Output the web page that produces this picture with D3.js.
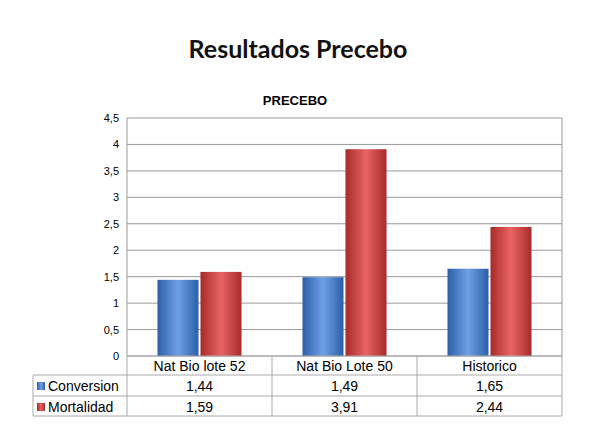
<!DOCTYPE html><html><head><meta charset="utf-8"><script src="https://cdn.jsdelivr.net/npm/d3@7"></script>
<style>body{margin:0;background:#fff}svg{font-family:Arial,"Liberation Sans",sans-serif}</style></head><body>
<svg id="c" width="600" height="427"></svg>
<script>
const categories=["Nat Bio lote 52","Nat Bio Lote 50","Historico"];
const seriesNames=["Conversion","Mortalidad"];
const conversion=[1.44,1.49,1.65];
const mortalidad=[1.59,3.91,2.44];
const yTicks=[0,0.5,1,1.5,2,2.5,3,3.5,4,4.5];
const series=[conversion,mortalidad];
const cols=[["#2a5fa8","#6fa0e4","#2a5fa8"],["#a82a2a","#ea6464","#a82a2a"]];
const svg=d3.select("#c");
const defs=svg.append("defs");
cols.forEach((c,i)=>{const g=defs.append("linearGradient").attr("id","g"+i);
g.selectAll("stop").data(c).join("stop").attr("offset",(d,j)=>j/2).attr("stop-color",d=>d);});
svg.append("text").attr("x",298).attr("y",58).attr("text-anchor","middle")
 .attr("font-family","Lato, 'Open Sans', sans-serif").attr("font-weight","bold").attr("font-size",25).attr("fill","#111").text("Resultados Precebo");
svg.append("text").attr("x",295).attr("y",105).attr("text-anchor","middle").attr("font-weight","bold").attr("font-size",13).text("PRECEBO");
const L=127,R=562,T=118,B=356,tL=33;
const x=d3.scaleBand().domain(categories).range([L,R]);
const y=d3.scaleLinear().domain([0,4.5]).range([B,T]);
const grid="#999";
svg.append("g").selectAll("line").data(yTicks).join("line").attr("x1",L).attr("x2",R).attr("y1",d=>y(d)).attr("y2",d=>y(d)).attr("stroke",grid);
svg.append("line").attr("x1",L).attr("x2",L).attr("y1",T).attr("y2",B).attr("stroke",grid);
svg.append("line").attr("x1",R).attr("x2",R).attr("y1",T).attr("y2",B).attr("stroke",grid);
svg.append("g").selectAll("text").data(yTicks).join("text").attr("x",L-8).attr("y",d=>y(d)+4).attr("text-anchor","end").attr("font-size",11)
 .text(d=>String(d).replace(".",","));
const bw=41;
series.forEach((s,i)=>{
 svg.append("g").selectAll("rect").data(s).join("rect")
  .attr("x",(d,j)=>x(categories[j])+x.bandwidth()/2+(i?1:-bw-1)).attr("width",bw)
  .attr("y",d=>y(d)).attr("height",d=>B-y(d)).attr("fill","url(#g"+i+")");
});
// table
const rows=[B,375,396,416];
const tc="#aaa";
rows.forEach((r,k)=>svg.append("line").attr("x1",k?tL:L).attr("x2",R).attr("y1",r).attr("y2",r).attr("stroke",tc));
svg.append("line").attr("x1",tL).attr("x2",tL).attr("y1",375).attr("y2",416).attr("stroke",tc);
[L,...categories.map(c=>x(c)+x.bandwidth()),].forEach(v=>svg.append("line").attr("x1",v).attr("x2",v).attr("y1",B).attr("y2",416).attr("stroke",tc));
svg.append("g").selectAll("text").data(categories).join("text").attr("x",c=>x(c)+x.bandwidth()/2).attr("y",371).attr("text-anchor","middle").attr("font-size",14).text(d=>d);
series.forEach((s,i)=>{
 const yy=rows[i+1]+16;
 svg.append("rect").attr("x",37).attr("y",yy-9).attr("width",8).attr("height",8).attr("fill","url(#g"+i+")");
 svg.append("text").attr("x",48).attr("y",yy).attr("font-size",14).text(seriesNames[i]);
 svg.append("g").selectAll("text").data(s).join("text").attr("x",(d,j)=>x(categories[j])+x.bandwidth()/2).attr("y",yy).attr("text-anchor","middle").attr("font-size",14)
  .text(d=>d.toFixed(2).replace(".",","));
});
</script></body></html>
